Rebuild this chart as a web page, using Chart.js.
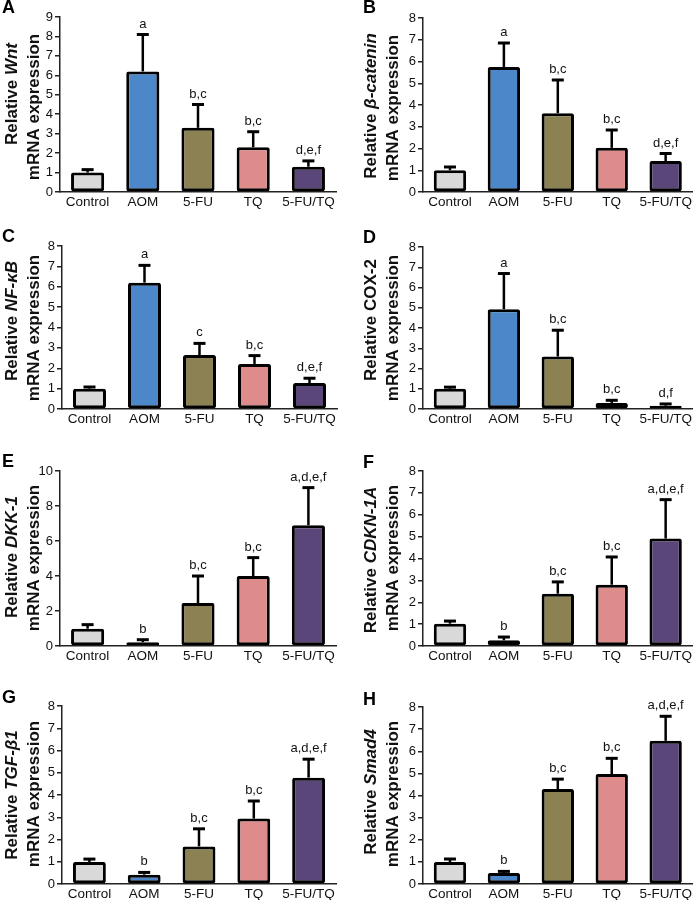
<!DOCTYPE html>
<html>
<head>
<meta charset="utf-8">
<script src="https://cdn.jsdelivr.net/npm/chart.js@4.4.1/dist/chart.umd.min.js"></script>
<style>
  body { margin: 0; background: #fff; }
  #wrap { position: relative; width: 694px; height: 900px; }
  #wrap canvas { position: absolute; }
</style>
</head>
<body>
<div id="wrap"></div>
<script>
var groups = ['Control', 'AOM', '5-FU', 'TQ', '5-FU/TQ'];
var barColors = ['#d9d9d9', '#4b87c9', '#8c8152', '#dd8b8b', '#5b4679'];

// A - Wnt
var wntMean = [1.0, 6.2, 3.3, 2.3, 1.3];
var wntErr = [0.15, 1.9, 1.2, 0.8, 0.3];
var wntSig = ['', 'a', 'b,c', 'b,c', 'd,e,f'];
// B - beta-catenin
var catMean = [1.0, 5.75, 3.62, 2.03, 1.42];
var catErr = [0.15, 1.1, 1.53, 0.82, 0.35];
var catSig = ['', 'a', 'b,c', 'b,c', 'd,e,f'];
// C - NF-kB
var nfkbMean = [1.0, 6.2, 2.65, 2.21, 1.27];
var nfkbErr = [0.08, 0.85, 0.57, 0.41, 0.24];
var nfkbSig = ['', 'a', 'c', 'b,c', 'd,e,f'];
// D - COX-2
var coxMean = [1.0, 4.93, 2.59, 0.3, 0.16];
var coxErr = [0.08, 1.76, 1.3, 0.13, 0.09];
var coxSig = ['', 'a', 'b,c', 'b,c', 'd,f'];
// E - DKK-1
var dkkMean = [0.99, 0.22, 2.46, 4.0, 6.9];
var dkkErr = [0.23, 0.14, 1.54, 1.05, 2.15];
var dkkSig = ['', 'b', 'b,c', 'b,c', 'a,d,e,f'];
// F - CDKN-1A
var cdknMean = [1.02, 0.26, 2.39, 2.8, 4.91];
var cdknErr = [0.12, 0.15, 0.54, 1.27, 1.78];
var cdknSig = ['', 'b', 'b,c', 'b,c', 'a,d,e,f'];
// G - TGF-beta1
var tgfMean = [0.99, 0.42, 1.69, 2.94, 4.78];
var tgfErr = [0.13, 0.1, 0.79, 0.79, 0.83];
var tgfSig = ['', 'b', 'b,c', 'b,c', 'a,d,e,f'];
// H - Smad4
var smadMean = [0.99, 0.5, 4.29, 4.97, 6.47];
var smadErr = [0.14, 0.07, 0.45, 0.71, 1.11];
var smadSig = ['', 'b', 'b,c', 'b,c', 'a,d,e,f'];

var yTicksA = [0, 1, 2, 3, 4, 5, 6, 7, 8, 9];
var yTicks8 = [0, 1, 2, 3, 4, 5, 6, 7, 8];
var yTicksE = [0, 2, 4, 6, 8, 10];

var FONT = '"Liberation Sans", Arial, sans-serif';
var W = 347, H = 225;

// box = chart area [left, right, top, bottom] inside each panel
var panels = [
  {letter: 'A', gene: 'Wnt', it: true, mean: wntMean, err: wntErr, sig: wntSig, ticks: yTicksA, box: [60, 336, 17, 192], ty: [94, 107]},
  {letter: 'B', gene: '\u03b2-catenin', it: true, mean: catMean, err: catErr, sig: catSig, ticks: yTicks8, box: [76, 346, 18, 192], ty: [106, 108]},
  {letter: 'C', gene: 'NF-\u03baB', it: true, mean: nfkbMean, err: nfkbErr, sig: nfkbSig, ticks: yTicks8, box: [62, 337, 21, 184], ty: [96, 103]},
  {letter: 'D', gene: 'COX-2', it: false, mean: coxMean, err: coxErr, sig: coxSig, ticks: yTicks8, box: [76, 346, 22, 184], ty: [95, 103]},
  {letter: 'E', gene: 'DKK-1', it: true, mean: dkkMean, err: dkkErr, sig: dkkSig, ticks: yTicksE, box: [60, 336, 21, 196], ty: [107, 108]},
  {letter: 'F', gene: 'CDKN-1A', it: true, mean: cdknMean, err: cdknErr, sig: cdknSig, ticks: yTicks8, box: [76, 346, 21, 196], ty: [110, 108]},
  {letter: 'G', gene: 'TGF-\u03b21', it: true, mean: tgfMean, err: tgfErr, sig: tgfSig, ticks: yTicks8, box: [62, 336, 31, 209], ty: [120, 119]},
  {letter: 'H', gene: 'Smad4', it: true, mean: smadMean, err: smadErr, sig: smadSig, ticks: yTicks8, box: [76, 346, 32, 209], ty: [117, 119]}
];
var letterY = [13, 13, 17, 18, 17, 18, 28, 30];

var wrap = document.getElementById('wrap');

panels.forEach(function (p, idx) {
  var col = idx % 2, row = Math.floor(idx / 2);
  var cv = document.createElement('canvas');
  cv.width = W; cv.height = H;
  cv.style.left = (col * W) + 'px';
  cv.style.top = (row * H) + 'px';
  wrap.appendChild(cv);

  var left = p.box[0], right = p.box[1], top = p.box[2], bottom = p.box[3];
  var tx = col === 0 ? [12, 34] : [24, 46];

  var extras = {
    id: 'extras' + idx,
    afterDatasetsDraw: function (chart) {
      var ctx = chart.ctx;
      var ys = chart.scales.y;
      var bars = chart.getDatasetMeta(0).data;
      ctx.save();
      ctx.strokeStyle = '#000';
      ctx.fillStyle = '#111';
      ctx.font = '13px ' + FONT;
      ctx.textAlign = 'center';
      ctx.textBaseline = 'alphabetic';
      bars.forEach(function (bar, i) {
        var y0 = bar.y;
        var y1 = ys.getPixelForValue(p.mean[i] + p.err[i]);
        ctx.lineWidth = 2.5;
        ctx.beginPath();
        ctx.moveTo(bar.x, y0);
        ctx.lineTo(bar.x, y1);
        ctx.stroke();
        ctx.lineWidth = 3;
        ctx.beginPath();
        ctx.moveTo(bar.x - 6, y1);
        ctx.lineTo(bar.x + 6, y1);
        ctx.stroke();
        if (p.sig[i]) ctx.fillText(p.sig[i], bar.x, y1 - 7);
      });
      ctx.restore();
    },
    afterDraw: function (chart) {
      var ctx = chart.ctx;
      ctx.save();
      ctx.fillStyle = '#000';
      ctx.font = 'bold 18px ' + FONT;
      ctx.textAlign = 'left';
      ctx.textBaseline = 'alphabetic';
      ctx.fillText(p.letter, col === 0 ? 2 : 16, letterY[idx]);

      // two line rotated y title, gene name in italics
      var lines = [
        [['Relative ', 'bold 17px '], [p.gene, (p.it ? 'italic bold 17px ' : 'bold 17px ')]],
        [['mRNA expression', 'bold 17px ']]
      ];
      ctx.fillStyle = '#111';
      ctx.textBaseline = 'middle';
      lines.forEach(function (segs, li) {
        var w = 0;
        segs.forEach(function (s) { ctx.font = s[1] + FONT; w += ctx.measureText(s[0]).width; });
        ctx.save();
        ctx.translate(tx[li], p.ty[li]);
        ctx.rotate(-Math.PI / 2);
        var x = -w / 2;
        segs.forEach(function (s) {
          ctx.font = s[1] + FONT;
          ctx.fillText(s[0], x, 0);
          x += ctx.measureText(s[0]).width;
        });
        ctx.restore();
      });
      ctx.restore();
    }
  };

  new Chart(cv.getContext('2d'), {
    type: 'bar',
    data: {
      labels: groups,
      datasets: [{
        data: p.mean,
        backgroundColor: barColors,
        borderColor: '#000',
        borderWidth: 3,
        borderSkipped: false,
        borderRadius: 2,
        barPercentage: 0.6,
        categoryPercentage: 1.0
      }]
    },
    options: {
      responsive: false,
      animation: false,
      layout: { padding: { left: 0, top: top, right: W - right, bottom: 0 } },
      plugins: { legend: { display: false }, tooltip: { enabled: false } },
      scales: {
        x: {
          grid: { display: false, drawTicks: false },
          border: { display: true, color: '#222', width: 1.5 },
          ticks: { color: '#111', font: { size: 13.5, family: FONT }, padding: 2, maxRotation: 0, autoSkip: false },
          afterFit: function (s) { s.height = H - bottom; }
        },
        y: {
          min: p.ticks[0],
          max: p.ticks[p.ticks.length - 1],
          afterBuildTicks: function (s) { s.ticks = p.ticks.map(function (v) { return {value: v}; }); },
          ticks: { color: '#111', font: { size: 13, family: FONT }, padding: 2 },
          grid: { drawOnChartArea: false, drawTicks: true, tickLength: 5, color: '#222', lineWidth: 1.5 },
          border: { display: true, color: '#222', width: 1.5 },
          afterFit: function (s) { s.width = left; }
        }
      }
    },
    plugins: [extras]
  });
});
</script>
</body>
</html>
